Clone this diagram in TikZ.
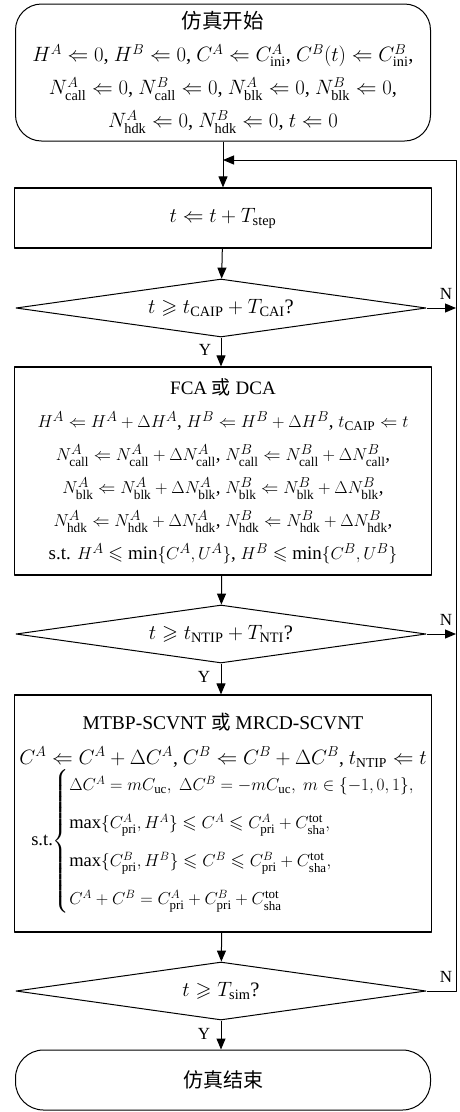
\documentclass[tikz,border=0pt]{standalone}
\usepackage{amsmath,amssymb}
\usepackage{fontspec}
\setmainfont{Liberation Serif}
\newfontfamily\cjk{Noto Sans CJK SC}
\usepackage{tikz}
\usetikzlibrary{arrows.meta,shapes.geometric,positioning,calc}
\newcommand{\upd}{\Leftarrow}
\newcommand{\rmsub}[1]{\mathrm{#1}}

\begin{document}
\begin{tikzpicture}[x=1pt,y=-1pt,font=\fontsize{20.5}{33}\selectfont,>={Triangle[length=11pt,width=9pt]},line join=round]
\tikzset{
  termbox/.style={draw,line width=1pt,rounded corners=26pt,minimum width=415pt,align=center,inner sep=2pt},
  procbox/.style={draw,line width=1.2pt,text width=413pt,align=flush center,inner sep=2pt},
  decide/.style={draw,diamond,aspect=7,line width=1pt,minimum width=410pt,minimum height=58pt,inner sep=0pt},
  flow/.style={->,line width=1pt},
  yn/.style={font=\fontsize{17}{17}\selectfont,inner sep=0pt}
}
\useasboundingbox (0,0) rectangle (459,1112);

% start
\node[termbox,minimum height=137pt] (start) at (223,72.5)
  {{\cjk 仿真开始}\\
   $H^A\upd 0$, $H^B\upd 0$, $C^A\upd C^A_{\rmsub{ini}}$, $C^B(t)\upd C^B_{\rmsub{ini}}$,\\
   $N^A_{\rmsub{call}}\upd 0$, $N^B_{\rmsub{call}}\upd 0$, $N^A_{\rmsub{blk}}\upd 0$, $N^B_{\rmsub{blk}}\upd 0$,\\
   $N^A_{\rmsub{hdk}}\upd 0$, $N^B_{\rmsub{hdk}}\upd 0$, $t\upd 0$};

% time step
\node[procbox,minimum height=60pt] (step) at (223,218) {$t\upd t+T_{\rmsub{step}}$};

% CA check
\node[decide] (chk1) at (221,308) {$t\geqslant t_{\rmsub{CAIP}}+T_{\rmsub{CAI}}$?};
\node[procbox,minimum height=208pt,font=\fontsize{19}{33}\selectfont] (fca) at (223,471)
  {FCA {\cjk 或} DCA\\
   $H^A\upd H^A+\Delta H^A$, $H^B\upd H^B+\Delta H^B$, $t_{\rmsub{CAIP}}\upd t$\\
   $N^A_{\rmsub{call}}\upd N^A_{\rmsub{call}}+\Delta N^A_{\rmsub{call}}$, $N^B_{\rmsub{call}}\upd N^B_{\rmsub{call}}+\Delta N^B_{\rmsub{call}}$,\\
   $N^A_{\rmsub{blk}}\upd N^A_{\rmsub{blk}}+\Delta N^A_{\rmsub{blk}}$, $N^B_{\rmsub{blk}}\upd N^B_{\rmsub{blk}}+\Delta N^B_{\rmsub{blk}}$,\\
   $N^A_{\rmsub{hdk}}\upd N^A_{\rmsub{hdk}}+\Delta N^A_{\rmsub{hdk}}$, $N^B_{\rmsub{hdk}}\upd N^B_{\rmsub{hdk}}+\Delta N^B_{\rmsub{hdk}}$,\\
   s.t. $H^A\leqslant\min\{C^A,U^A\}$, $H^B\leqslant\min\{C^B,U^B\}$};

% NT check
\node[decide] (chk2) at (221,634) {$t\geqslant t_{\rmsub{NTIP}}+T_{\rmsub{NTI}}$?};
\node[procbox,minimum height=237pt,font=\fontsize{19.5}{35}\selectfont] (mtbp) at (223,813.5)
  {MTBP-SCVNT {\cjk 或} MRCD-SCVNT\\
   $C^A\upd C^A+\Delta C^A$, $C^B\upd C^B+\Delta C^B$, $t_{\rmsub{NTIP}}\upd t$\\
   {\fontsize{18.5}{32}\selectfont s.t.$\left\{\begin{array}{@{}l@{}}
     \Delta C^A=mC_{\rmsub{uc}},\ \Delta C^B=-mC_{\rmsub{uc}},\ m\in\{-1,0,1\},\\[6pt]
     \max\{C^A_{\rmsub{pri}},H^A\}\leqslant C^A\leqslant C^A_{\rmsub{pri}}+C^{\rmsub{tot}}_{\rmsub{sha}},\\[6pt]
     \max\{C^B_{\rmsub{pri}},H^B\}\leqslant C^B\leqslant C^B_{\rmsub{pri}}+C^{\rmsub{tot}}_{\rmsub{sha}},\\[6pt]
     C^A+C^B=C^A_{\rmsub{pri}}+C^B_{\rmsub{pri}}+C^{\rmsub{tot}}_{\rmsub{sha}}
   \end{array}\right.$}};

% end check
\node[decide] (chk3) at (221,991) {$t\geqslant T_{\rmsub{sim}}$?};
\node[termbox,minimum height=60pt,rounded corners=28pt] (stop) at (223,1080)
  {\fontsize{20}{24}\selectfont\cjk 仿真结束};

% loop line
\coordinate (rtop) at (456,160);
\coordinate (rbot) at (456,991);
\coordinate (join) at (223,160);

\draw[flow] (start) -- (step);
\draw[flow] (step) -- (chk1);
\draw[flow] (chk1.south) -- (chk1.south |- fca.north);
\draw[flow] (fca) -- (chk2);
\draw[flow] (chk2.south) -- (chk2.south |- mtbp.north);
\draw[flow] (mtbp) -- (chk3);
\draw[flow] (chk3.south) -- (chk3.south |- stop.north);
\draw[flow] (chk1.east) -- (chk1.east -| rtop);
\draw[flow] (chk2.east) -- (chk2.east -| rtop);
\draw[flow] (chk3.east) -- (rbot) -- (rtop) -- (join);

% Y / N labels
\node[yn] (y1) at (205,350) {Y};
\node[yn] (y2) at (204,677) {Y};
\node[yn] (y3) at (204,1034) {Y};
\node[yn] (n1) at (446,294) {N};
\node[yn] (n2) at (446,620) {N};
\node[yn] (n3) at (446,977) {N};
\end{tikzpicture}
\end{document}
